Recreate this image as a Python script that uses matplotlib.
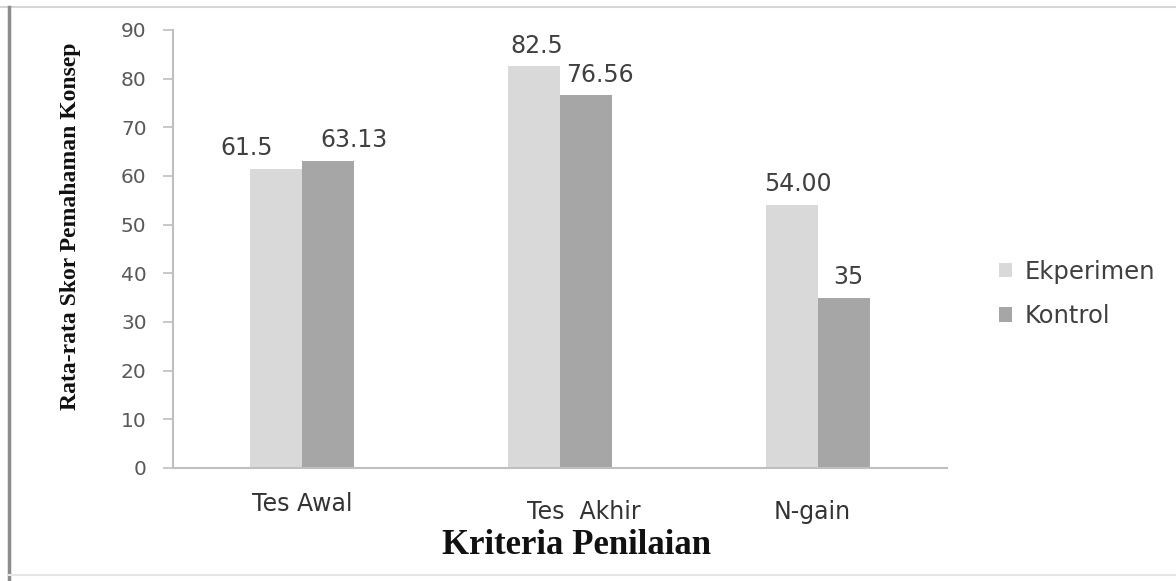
import matplotlib
matplotlib.use("Agg")
import matplotlib.pyplot as plt
import numpy as np
from matplotlib.lines import Line2D

# Rata-rata skor pemahaman konsep per kriteria penilaian
kriteria = ["Tes Awal", "Tes  Akhir", "N-gain"]
ekperimen = [61.5, 82.5, 54.00]
kontrol = [63.13, 76.56, 35]
label_ekperimen = ["61.5", "82.5", "54.00"]
label_kontrol = ["63.13", "76.56", "35"]

warna_eksp = "#d9d9d9"
warna_kontrol = "#a6a6a6"
abu_sumbu = "#bfbfbf"
abu_teks = "#595959"

fig = plt.figure(figsize=(11.76, 5.81), dpi=100)
fig.patch.set_facecolor("white")
ax = fig.add_axes([0.1471, 0.1945, 0.6582, 0.7539])

x = np.arange(len(kriteria))
w = 0.2
b1 = ax.bar(x - w / 2, ekperimen, w, color=warna_eksp, label="Ekperimen")
b2 = ax.bar(x + w / 2, kontrol, w, color=warna_kontrol, label="Kontrol")

ax.set_xlim(-0.5, len(kriteria) - 0.5)
ax.set_ylim(0, 90)
ax.set_yticks(np.arange(0, 91, 10))
ax.set_xticks([])

for s in ["top", "right"]:
    ax.spines[s].set_visible(False)
for s in ["left", "bottom"]:
    ax.spines[s].set_color(abu_sumbu)
    ax.spines[s].set_linewidth(1.5)

ax.tick_params(axis="y", direction="out", length=7, width=1.2, color=abu_sumbu,
               labelcolor=abu_teks, labelsize=14.5, pad=12)

# label nilai di atas batang (geser horizontal dalam poin)
geser_eksp = [-21, 2, 4]
geser_kontrol = [19, 10, 3]
for rect, teks, dx in zip(b1, label_ekperimen, geser_eksp):
    ax.annotate(teks, (rect.get_x() + rect.get_width() / 2, rect.get_height()),
                xytext=(dx, 15), textcoords="offset points", ha="center", va="center",
                fontsize=17, color="#404040")
for rect, teks, dx in zip(b2, label_kontrol, geser_kontrol):
    ax.annotate(teks, (rect.get_x() + rect.get_width() / 2, rect.get_height()),
                xytext=(dx, 15), textcoords="offset points", ha="center", va="center",
                fontsize=17, color="#404040")

# label kategori di bawah sumbu x
geser_kat = [(0, -26), (17, -32), (-4, -32)]
for xi, nama, (dx, dy) in zip(x, kriteria, geser_kat):
    ax.annotate(nama, (xi, 0), xycoords=("data", "axes fraction"),
                xytext=(dx, dy), textcoords="offset points", ha="center", va="center",
                fontsize=17, color="#333333")

fig.text(71 / 1176, 1 - 226 / 581, "Rata-rata Skor Pemahaman Konsep", rotation=90,
         ha="center", va="center", fontsize=17, fontweight="bold",
         family="Liberation Serif", color="#111111")
fig.text(576 / 1176, 1 - 546 / 581, "Kriteria Penilaian", ha="center", va="center",
         fontsize=25, fontweight="bold", family="Liberation Serif", color="#111111")

leg = fig.legend(handles=[b1, b2], loc="center left", bbox_to_anchor=(0.831, 0.494),
                 frameon=False, fontsize=17.5, handlelength=0.55, handleheight=0.55,
                 handletextpad=0.5, labelspacing=0.85)
for t in leg.get_texts():
    t.set_color("#404040")

# bingkai gambar
fig.add_artist(Line2D([0, 1], [1 - 7 / 581] * 2, transform=fig.transFigure,
                      color="#d6d6d6", linewidth=1.5))
fig.add_artist(Line2D([9 / 1176] * 2, [0, 1 - 7 / 581], transform=fig.transFigure,
                      color="#8c8c8c", linewidth=2.5))
fig.add_artist(Line2D([9 / 1176, 1], [1 - 575 / 581] * 2, transform=fig.transFigure,
                      color="#e6e6e6", linewidth=1.5))

fig.savefig("out.png", dpi=100)
